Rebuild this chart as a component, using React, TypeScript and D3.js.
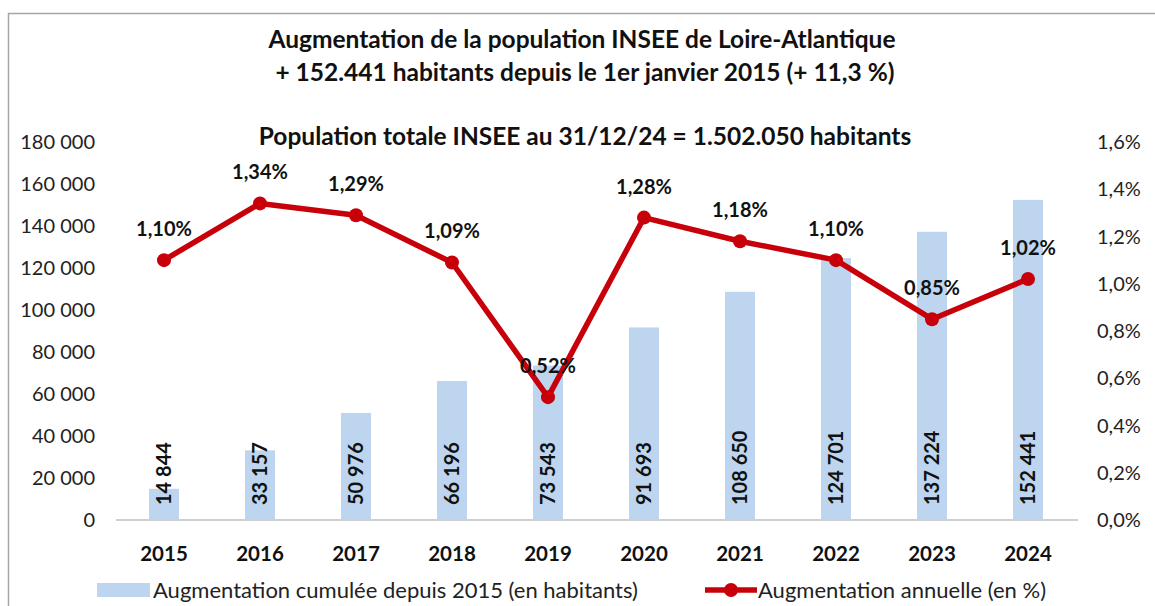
import { useEffect, useRef } from 'react';
import * as d3 from 'd3';

const years = ['2015', '2016', '2017', '2018', '2019', '2020', '2021', '2022', '2023', '2024'];
const cumulative = [14844, 33157, 50976, 66196, 73543, 91693, 108650, 124701, 137224, 152441];
const annualPct = [1.1, 1.34, 1.29, 1.09, 0.52, 1.28, 1.18, 1.1, 0.85, 1.02];
const leftTicks = [0, 20000, 40000, 60000, 80000, 100000, 120000, 140000, 160000, 180000];
const rightTicks = [0, 0.2, 0.4, 0.6, 0.8, 1.0, 1.2, 1.4, 1.6];

const titleLines = [
	'Augmentation de la population INSEE de Loire-Atlantique',
	'+ 152.441 habitants depuis le 1er janvier 2015 (+ 11,3 %)',
];
const subtitle = 'Population totale INSEE au 31/12/24 = 1.502.050 habitants';
const legendBars = 'Augmentation cumulée depuis 2015 (en habitants)';
const legendLine = 'Augmentation annuelle (en %)';

const W = 1155;
const H = 606;
const FONT = 'Lato, "Open Sans", sans-serif';
const RED = '#c8000a';
const BLUE = '#bdd5ee';

const App = () => {
	const svgRef = useRef<SVGSVGElement>(null);

	useEffect(() => {
		const svg = d3.select(svgRef.current);
		svg.selectAll('*').remove();
		svg.style('font-family', FONT);

		const x = d3.scaleBand().domain(years).range([116, 1076]);
		const yL = d3.scaleLinear().domain([0, 180000]).range([520, 142]);
		const yR = d3.scaleLinear().domain([0, 1.6]).range([520, 142]);
		const cx = (d: string) => (x(d) as number) + x.bandwidth() / 2;
		const barW = 30;

		const fmtInt = (v: number) => d3.format(',')(v).replace(/,/g, ' ');
		const fmtPct1 = (v: number) => d3.format('.1f')(v).replace('.', ',') + '%';
		const fmtPct2 = (v: number) => d3.format('.2f')(v).replace('.', ',') + '%';

		// frame
		svg.append('path').attr('d', `M8.5,${H} V13.5 H${W}`).attr('fill', 'none').attr('stroke', '#a6a6a6').attr('stroke-width', 1.5);

		// titles
		const t = svg.append('g').attr('text-anchor', 'middle').attr('font-weight', 'bold').attr('fill', '#111').attr('font-size', 24.5);
		t.append('text').attr('x', 582).attr('y', 48).text(titleLines[0]);
		t.append('text').attr('x', 585).attr('y', 81).text(titleLines[1]);
		t.append('text').attr('x', 585).attr('y', 145).text(subtitle);

		// left axis labels
		svg.append('g')
			.attr('text-anchor', 'end')
			.attr('font-size', 20)
			.attr('fill', '#222')
			.selectAll('text')
			.data(leftTicks)
			.join('text')
			.attr('x', 95)
			.attr('y', d => yL(d))
			.attr('dy', '0.35em')
			.text(d => fmtInt(d));

		// right axis labels
		svg.append('g')
			.attr('text-anchor', 'start')
			.attr('font-size', 20)
			.attr('fill', '#222')
			.selectAll('text')
			.data(rightTicks)
			.join('text')
			.attr('x', 1097)
			.attr('y', d => yR(d))
			.attr('dy', '0.35em')
			.text(d => fmtPct1(d));

		// bars
		svg.append('g')
			.selectAll('rect')
			.data(cumulative)
			.join('rect')
			.attr('x', (d, i) => cx(years[i]) - barW / 2)
			.attr('y', d => yL(d))
			.attr('width', barW)
			.attr('height', d => yL(0) - yL(d))
			.attr('fill', BLUE);

		// baseline
		svg.append('line').attr('x1', 116).attr('x2', 1078).attr('y1', yL(0)).attr('y2', yL(0)).attr('stroke', '#d0d0d0').attr('stroke-width', 2);

		// bar value labels
		svg.append('g')
			.attr('font-size', 20)
			.attr('font-weight', 'bold')
			.attr('fill', '#111')
			.selectAll('text')
			.data(cumulative)
			.join('text')
			.attr('transform', (d, i) => `translate(${cx(years[i])},${yL(0) - 15}) rotate(-90)`)
			.attr('dy', '0.35em')
			.text(d => fmtInt(d));

		// year labels
		svg.append('g')
			.attr('text-anchor', 'middle')
			.attr('font-size', 20.5)
			.attr('font-weight', 'bold')
			.attr('fill', '#111')
			.selectAll('text')
			.data(years)
			.join('text')
			.attr('x', d => cx(d))
			.attr('y', 561)
			.text(d => d);

		// line
		const line = d3
			.line<number>()
			.x((d, i) => cx(years[i]))
			.y(d => yR(d));
		svg.append('path').datum(annualPct).attr('d', line).attr('fill', 'none').attr('stroke', RED).attr('stroke-width', 5.5).attr('stroke-linejoin', 'round');
		svg.append('g')
			.selectAll('circle')
			.data(annualPct)
			.join('circle')
			.attr('cx', (d, i) => cx(years[i]))
			.attr('cy', d => yR(d))
			.attr('r', 7)
			.attr('fill', RED);

		svg.append('g')
			.attr('text-anchor', 'middle')
			.attr('font-size', 20)
			.attr('font-weight', 'bold')
			.attr('fill', '#111')
			.selectAll('text')
			.data(annualPct)
			.join('text')
			.attr('x', (d, i) => cx(years[i]))
			.attr('y', d => yR(d) - 24)
			.text(d => fmtPct2(d));

		// legend
		const lg = svg.append('g').attr('font-size', 22).attr('fill', '#222');
		lg.append('rect').attr('x', 97).attr('y', 583).attr('width', 53).attr('height', 14).attr('fill', BLUE);
		lg.append('text').attr('x', 153).attr('y', 598).text(legendBars);
		lg.append('line').attr('x1', 705).attr('x2', 757).attr('y1', 590).attr('y2', 590).attr('stroke', RED).attr('stroke-width', 5.5);
		lg.append('circle').attr('cx', 731).attr('cy', 590).attr('r', 7).attr('fill', RED);
		lg.append('text').attr('x', 758).attr('y', 598).text(legendLine);
	}, []);

	return <svg ref={svgRef} width={W} height={H} style={{ position: 'absolute', left: 0, top: 0, background: '#fff' }}></svg>;
};

export default App;
